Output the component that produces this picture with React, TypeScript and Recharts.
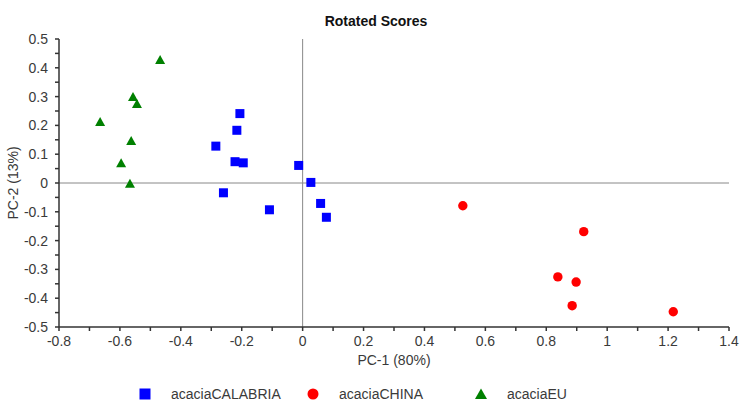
import { ScatterChart, Scatter, XAxis, YAxis, ReferenceLine, Legend } from "recharts";

// PC-1 / PC-2 scores
const calabriaPc1 = [-0.206, -0.216, -0.285, -0.222, -0.195, -0.013, 0.027, -0.26, -0.109, 0.059, 0.078];
const calabriaPc2 = [0.241, 0.183, 0.128, 0.074, 0.07, 0.061, 0.002, -0.034, -0.093, -0.071, -0.119];

const chinaPc1 = [0.526, 0.923, 0.838, 0.898, 0.885, 1.217];
const chinaPc2 = [-0.079, -0.169, -0.326, -0.344, -0.426, -0.447];

const euPc1 = [-0.468, -0.557, -0.544, -0.665, -0.563, -0.596, -0.567];
const euPc2 = [0.427, 0.299, 0.274, 0.212, 0.146, 0.069, -0.003];

const xTicks = [-0.8, -0.7, -0.6, -0.5, -0.4, -0.3, -0.2, -0.1, 0, 0.1, 0.2, 0.3, 0.4, 0.5, 0.6, 0.7, 0.8, 0.9, 1, 1.1, 1.2, 1.3, 1.4];
const xLabels = [-0.8, -0.6, -0.4, -0.2, 0, 0.2, 0.4, 0.6, 0.8, 1, 1.2, 1.4];
const yTicks = [-0.5, -0.45, -0.4, -0.35, -0.3, -0.25, -0.2, -0.15, -0.1, -0.05, 0, 0.05, 0.1, 0.15, 0.2, 0.25, 0.3, 0.35, 0.4, 0.45, 0.5];
const yLabels = [-0.5, -0.4, -0.3, -0.2, -0.1, 0, 0.1, 0.2, 0.3, 0.4, 0.5];

const toPoints = (xs: number[], ys: number[]) => xs.map((x, i) => ({ x, y: ys[i] }));

const FONT = "'Liberation Sans', Arial, sans-serif";
const TXT = "#3a3a3a";

const isLabel = (list: number[], v: number) => list.some(l => Math.abs(l - v) < 1e-6);
const fmt = (v: number) => String(Number(v.toFixed(2)));

const XTick = (p: any) =>
  isLabel(xLabels, p.payload.value) ? (
    <text x={p.x} y={p.y} dy="0.71em" textAnchor="middle" fontSize={14} fill={TXT} fontFamily={FONT}>
      {fmt(p.payload.value)}
    </text>
  ) : <g />;

const YTick = (p: any) =>
  isLabel(yLabels, p.payload.value) ? (
    <text x={p.x} y={p.y} dy="0.36em" textAnchor="end" fontSize={14} fill={TXT} fontFamily={FONT}>
      {fmt(p.payload.value)}
    </text>
  ) : <g />;

const Square = (p: any) => <rect x={p.cx - 4.5} y={p.cy - 4.5} width={9} height={9} fill="#0000ff" />;
const Dot = (p: any) => <circle cx={p.cx} cy={p.cy} r={4.7} fill="#ff0000" />;
const Tri = (p: any) => (
  <polygon points={`${p.cx},${p.cy - 5} ${p.cx + 5},${p.cy + 4} ${p.cx - 5},${p.cy + 4}`} fill="#008000" />
);

const legendItems = [
  { name: "acaciaCALABRIA", kind: "square", color: "#0000ff" },
  { name: "acaciaCHINA", kind: "circle", color: "#ff0000" },
  { name: "acaciaEU", kind: "triangle", color: "#008000" },
];

const LegendIcon = ({ kind, color }: { kind: string; color: string }) => (
  <svg width={12} height={12} style={{ marginRight: 20 }}>
    {kind === "square" && <rect x={0.5} y={0.5} width={11} height={11} fill={color} />}
    {kind === "circle" && <circle cx={6} cy={6} r={5.5} fill={color} />}
    {kind === "triangle" && <polygon points="6,0.5 12,11 0,11" fill={color} />}
  </svg>
);

const renderLegend = () => (
  <div style={{ display: "flex", paddingLeft: 139, fontFamily: FONT, fontSize: 14, color: TXT }}>
    {legendItems.map(it => (
      <div key={it.name} style={{ width: 168, display: "flex", alignItems: "center" }}>
        <LegendIcon kind={it.kind} color={it.color} />
        <span>{it.name}</span>
      </div>
    ))}
  </div>
);

export default function App() {
  return (
    <div style={{ position: "absolute", left: 0, top: 0, width: 752, height: 407, background: "#fff" }}>
      <div
        style={{
          position: "absolute", top: 13, left: 0, width: 752, textAlign: "center",
          fontFamily: FONT, fontWeight: "bold", fontSize: 14, color: "#111",
        }}
      >
        Rotated Scores
      </div>
      <ScatterChart width={752} height={407} margin={{ top: 39, right: 23, bottom: 0, left: 0 }}>
        <XAxis
          type="number" dataKey="x" domain={[-0.8, 1.4]} ticks={xTicks} interval={0}
          allowDataOverflow height={80} tickSize={4} tickMargin={5}
          stroke="#333" strokeWidth={1.5} tick={<XTick />}
          label={{
            content: ({ viewBox }: any) => (
              <text x={viewBox.x + viewBox.width / 2} y={365} textAnchor="middle" fontSize={14} fill={TXT} fontFamily={FONT}>
                PC-1 (80%)
              </text>
            ),
          }}
        />
        <YAxis
          type="number" dataKey="y" domain={[-0.5, 0.5]} ticks={yTicks} interval={0}
          allowDataOverflow width={59} tickSize={4} tickMargin={7}
          stroke="#333" strokeWidth={1.5} tick={<YTick />}
          label={{
            content: ({ viewBox }: any) => {
              const cy = viewBox.y + viewBox.height / 2;
              return (
                <text x={18} y={cy} transform={`rotate(-90 18 ${cy})`} textAnchor="middle" fontSize={14} fill={TXT} fontFamily={FONT}>
                  PC-2 (13%)
                </text>
              );
            },
          }}
        />
        <ReferenceLine x={0} stroke="#888" strokeWidth={1} />
        <ReferenceLine y={0} stroke="#888" strokeWidth={1} />
        <Legend
          layout="horizontal" verticalAlign="middle" align="center" content={renderLegend}
          wrapperStyle={{ top: 386, left: 0, width: 752 }}
        />
        <Scatter name="acaciaCALABRIA" data={toPoints(calabriaPc1, calabriaPc2)} shape={Square} isAnimationActive={false} />
        <Scatter name="acaciaCHINA" data={toPoints(chinaPc1, chinaPc2)} shape={Dot} isAnimationActive={false} />
        <Scatter name="acaciaEU" data={toPoints(euPc1, euPc2)} shape={Tri} isAnimationActive={false} />
      </ScatterChart>
    </div>
  );
}
